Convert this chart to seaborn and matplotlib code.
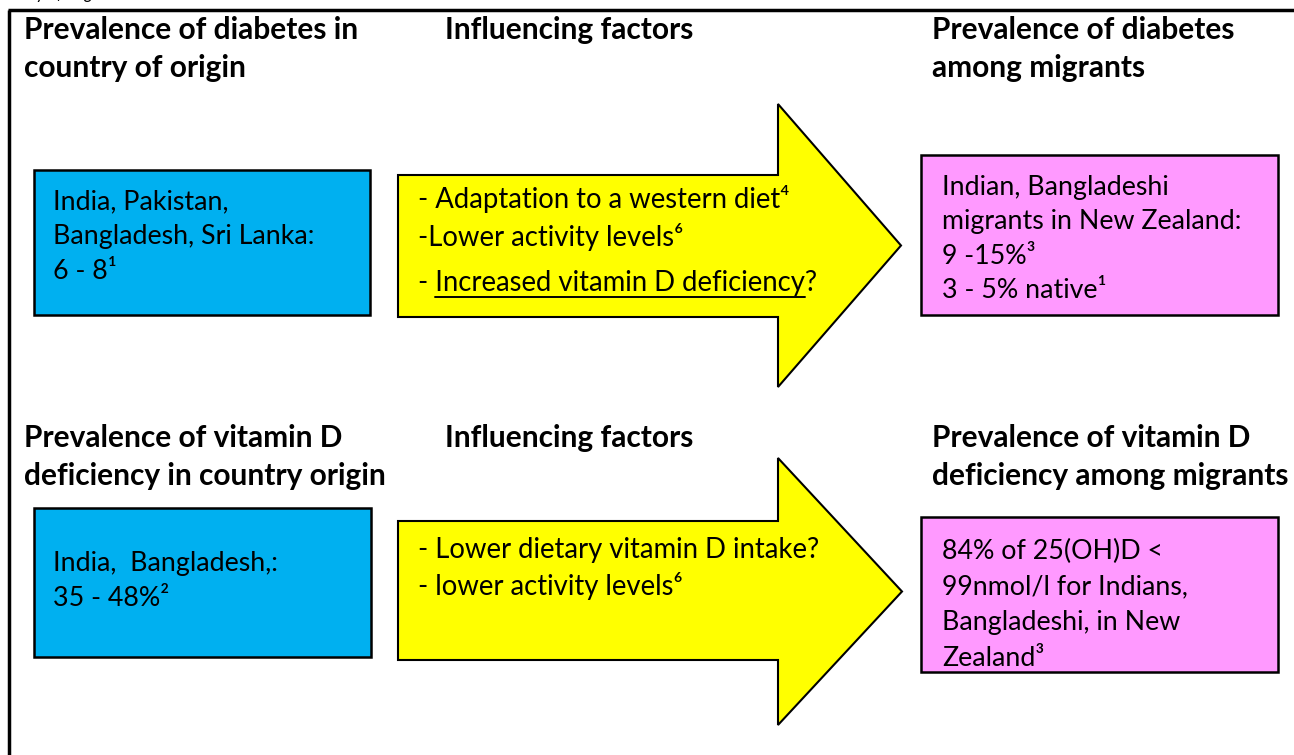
import matplotlib
matplotlib.use("Agg")
import matplotlib.pyplot as plt
from matplotlib.patches import Rectangle, Polygon
import seaborn as sns

# text content of the diagram
caption = "in country of origin and in New Zealand"
headings_diabetes = ["Prevalence of diabetes in\ncountry of origin",
                     "Influencing factors",
                     "Prevalence of diabetes\namong migrants"]
headings_vitd = ["Prevalence of vitamin D\ndeficiency in country origin",
                 "Influencing factors",
                 "Prevalence of vitamin D\ndeficiency among migrants"]
origin_diabetes = ["India, Pakistan,", "Bangladesh, Sri Lanka:", "6 - 8\u00b9"]
factors_diabetes = ["- Adaptation to a western diet\u2074",
                    "-Lower activity levels\u2076",
                    "- Increased vitamin D deficiency?"]
underlined = "Increased vitamin D deficiency"
migrants_diabetes = ["Indian, Bangladeshi", "migrants in New Zealand:",
                     "9 -15%\u00b3", "3 - 5% native\u00b9"]
origin_vitd = ["India,  Bangladesh,:", "35 - 48%\u00b2"]
factors_vitd = ["- Lower dietary vitamin D intake?", "- lower activity levels\u2076"]
migrants_vitd = ["84% of 25(OH)D <", "99nmol/l for Indians,",
                 "Bangladeshi, in New", "Zealand\u00b3"]

# colours
BLUE = "#00B0F0"
YELLOW = "#FFFF00"
PINK = "#FF99FF"

sns.set_theme(style="white")
plt.rcParams['font.family'] = ['Lato', 'DejaVu Sans']

W, H = 1294, 755
fig = plt.figure(figsize=(W / 100, H / 100), dpi=100)
ax = fig.add_axes([0, 0, 1, 1])
ax.set_xlim(0, W)
ax.set_ylim(H, 0)
ax.axis('off')

# cut-off caption at the very top and the frame
ax.text(-25, -1, caption, fontsize=12, style='italic', va='baseline', color='black')
ax.plot([8, W], [10, 10], color='black', lw=2.5, solid_capstyle='butt')
ax.plot([9, 9], [10, H], color='black', lw=2.5, solid_capstyle='butt')

HEAD_SIZE = 21.5
BODY_SIZE = 19.3
ARROW_SIZE = 19.8
col_x = [24, 445, 932]


def headings(labels, y0):
    for x, lab in zip(col_x, labels):
        for i, line in enumerate(lab.split("\n")):
            ax.text(x, y0 + i * 38, line, fontsize=HEAD_SIZE, fontweight='bold',
                    va='baseline', ha='left', color='black')


def box(x0, y0, x1, y1, color, lines, tx, ty, gap, clip=False):
    r = Rectangle((x0, y0), x1 - x0, y1 - y0, facecolor=color,
                  edgecolor='black', lw=1.8, zorder=2)
    ax.add_patch(r)
    inner = Rectangle((x0, y0), x1 - x0, y1 - y0 - 8, facecolor='none',
                      edgecolor='none', transform=ax.transData)
    for i, line in enumerate(lines):
        t = ax.text(tx, ty + i * gap, line, fontsize=BODY_SIZE, va='baseline',
                    ha='left', color='black', zorder=3)
        if clip:
            t.set_clip_path(inner)
    return r


def arrow(bx0, bx1, by0, by1, hy0, hy1, tip, lines, tx, ys):
    pts = [(bx0, by0), (bx1, by0), (bx1, hy0), (tip, (hy0 + hy1) / 2),
           (bx1, hy1), (bx1, by1), (bx0, by1)]
    ax.add_patch(Polygon(pts, closed=True, facecolor=YELLOW, edgecolor='black',
                         lw=1.5, zorder=2))
    for line, y in zip(lines, ys):
        ax.text(tx, y, line, fontsize=ARROW_SIZE, va='baseline', ha='left',
                color='black', zorder=3)


# row 1: diabetes
headings(headings_diabetes, 39)
box(34, 170, 370, 315, BLUE, origin_diabetes, 53, 209, 35)
arrow(398, 778, 175, 317, 104, 387, 901, factors_diabetes, 418, [208, 246, 291])
box(921, 155, 1278, 315, PINK, migrants_diabetes, 942, 195, 34.5)

# underline part of the third factor
fig.canvas.draw()
renderer = fig.canvas.get_renderer()


def text_width(s):
    t = ax.text(0, 0, s, fontsize=ARROW_SIZE)
    w = t.get_window_extent(renderer).width
    t.remove()
    return w


ux0 = 418 + text_width("- ")
ux1 = 418 + text_width("- " + underlined)
ax.plot([ux0, ux1], [297, 297], color='black', lw=1.4, zorder=4)

# row 2: vitamin D
headings(headings_vitd, 447)
box(34, 508, 371, 657, BLUE, origin_vitd, 53, 571, 35)
arrow(398, 778, 521, 660, 458, 725, 902, factors_vitd, 418, [558, 595])
box(921, 517, 1278, 672, PINK, migrants_vitd, 942, 559, 35.5, clip=True)

fig.savefig("out.png", dpi=100)
